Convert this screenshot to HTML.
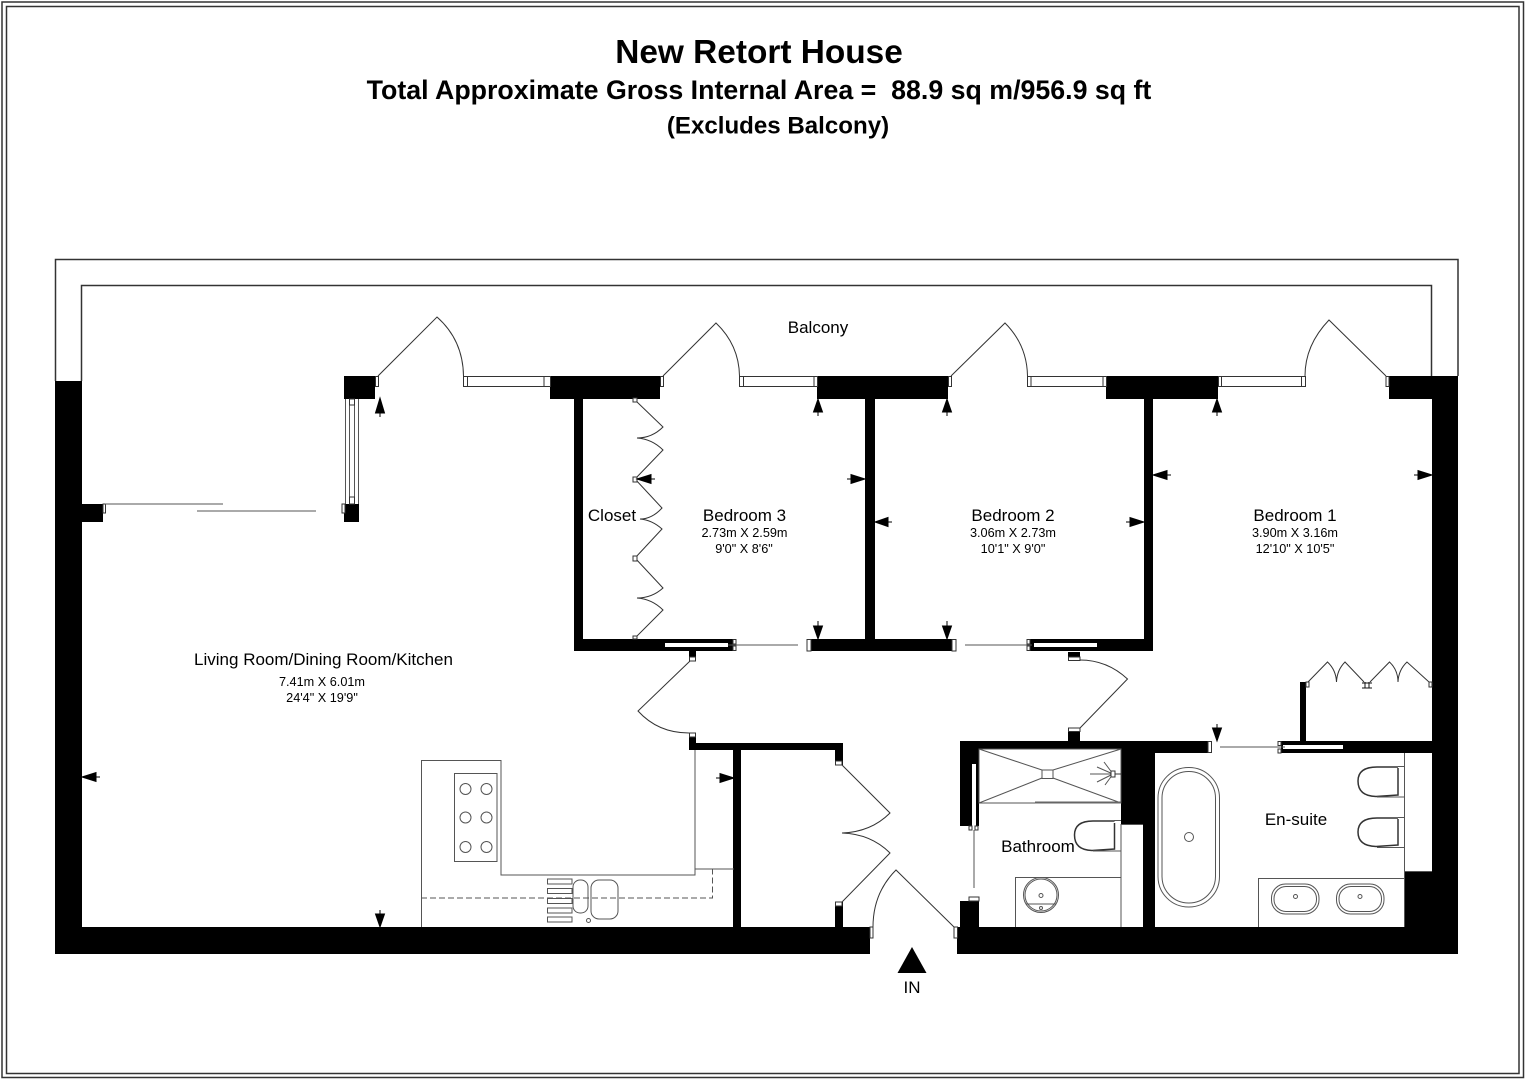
<!DOCTYPE html>
<html><head><meta charset="utf-8"><style>
html,body{margin:0;padding:0;background:#fff}
svg{display:block}
text{font-family:"Liberation Sans",sans-serif;fill:#000;text-anchor:middle}
.b{font-weight:bold}
.l{fill:none;stroke:#333;stroke-width:1}
.g{fill:none;stroke:#555;stroke-width:1}
.j{fill:#fff;stroke:#333;stroke-width:1}
</style></head><body>
<svg width="1526" height="1080" viewBox="0 0 1526 1080" xmlns="http://www.w3.org/2000/svg">
<rect width="1526" height="1080" fill="#fff"/>
<rect x="2" y="2" width="1521.500" height="1075.500" fill="none" stroke="#333" stroke-width="1.500"/>
<rect x="6.500" y="6.500" width="1512.500" height="1067" fill="none" stroke="#333" stroke-width="1.500"/>

<text class="b" x="759" y="63" font-size="33.400">New Retort House</text>
<text class="b" x="759" y="99" font-size="26.750">Total Approximate Gross Internal Area =&#160;&#160;88.9 sq m/956.9 sq ft</text>
<text class="b" x="778" y="133.500" font-size="24.100">(Excludes Balcony)</text>

<!-- balcony outlines -->
<path class="l" style="stroke-width:1.500" d="M55.500 381V259.500H1458V376M81.500 381V285.500H1431.500V376"/>

<!-- black walls -->
<g fill="#000">
<rect x="55" y="381" width="27" height="573"/>
<rect x="55" y="927" width="815" height="27"/>
<rect x="957" y="927" width="501" height="27"/>
<rect x="1432" y="376" width="26" height="578"/>
<rect x="82" y="504" width="21" height="18"/>
<rect x="344" y="376" width="31" height="23"/>
<rect x="344" y="504" width="15" height="18"/>
<rect x="550" y="376" width="110" height="23"/>
<rect x="817" y="376" width="131" height="23"/>
<rect x="1106" y="376" width="112" height="23"/>
<rect x="1389" y="376" width="43" height="23"/>
<rect x="574" y="399" width="9" height="252"/>
<rect x="865" y="399" width="10" height="240"/>
<rect x="1144" y="399" width="9" height="252"/>
<rect x="574" y="639" width="159" height="12"/>
<rect x="811" y="639" width="141" height="12"/>
<rect x="1030" y="639" width="123" height="12"/>
<rect x="689" y="651" width="7" height="7"/>
<rect x="1068" y="652" width="12" height="6"/>
<rect x="689" y="733" width="7" height="17"/>
<rect x="689" y="743" width="154" height="7"/>
<rect x="733" y="750" width="8" height="177"/>
<rect x="835" y="743" width="8" height="22"/>
<rect x="835" y="902" width="8" height="25"/>
<rect x="1068" y="728" width="12" height="13"/>
<rect x="960" y="741" width="248" height="8"/>
<rect x="960" y="749" width="19" height="77"/>
<rect x="1121" y="749" width="34" height="75"/>
<rect x="1143" y="824" width="12" height="103"/>
<rect x="1121" y="741" width="87" height="12"/>
<rect x="960" y="901" width="19" height="26"/>
<rect x="1281" y="741" width="151" height="12"/>
<rect x="1300" y="682" width="6" height="59"/>
<rect x="1404" y="872" width="28" height="55"/>
</g>
<!-- slots -->
<g fill="#fff">
<rect x="665" y="643" width="63" height="4"/>
<rect x="1034" y="643" width="63" height="4"/>
<rect x="1283" y="745" width="60" height="4"/>
<rect x="972" y="764" width="4" height="62"/>
</g>

<!-- vertical window west -->
<path class="g" d="M345.500 399V504M349.500 399V504M354.500 399V504M358.500 399V504"/>
<rect class="j" x="349.500" y="399" width="5" height="6"/>
<rect class="j" x="349.500" y="497" width="5" height="7"/>
<rect class="j" x="342" y="504" width="3" height="9"/>
<rect class="j" x="103" y="504" width="2.500" height="9"/>
<!-- sliding doors -->
<path class="g" d="M105 504H223M197 511H316"/>

<!-- balcony windows -->
<rect class="j" x="463.500" y="376.500" width="87" height="10"/>
<rect class="j" x="739.500" y="376.500" width="78" height="10"/>
<rect class="j" x="1027.500" y="376.500" width="79" height="10"/>
<rect class="j" x="1218.500" y="376.500" width="87" height="10"/>
<path class="l" d="M467.500 376.500V386.500M544 376.500V386.500M743.500 376.500V386.500M814 376.500V386.500M1031 376.500V386.500M1103 376.500V386.500M1221.500 376.500V386.500M1301.500 376.500V386.500"/>
<rect class="j" x="375.500" y="376.500" width="3" height="10"/>
<rect class="j" x="660.500" y="376.500" width="3" height="10"/>
<rect class="j" x="948.500" y="376.500" width="3" height="10"/>
<rect class="j" x="1386" y="376.500" width="3" height="10"/>
<!-- balcony doors -->
<path class="l" d="M378 376L437 317Q463 340 463.500 376"/>
<path class="l" d="M663 376L716 323Q739 345 739.500 376"/>
<path class="l" d="M951 376L1005 323Q1027 345 1027.500 376"/>
<path class="l" d="M1386 376L1329 320Q1305 345 1305 376"/>

<!-- closet bifold bedroom 3 -->
<path class="l" d="M636 401L663 427Q652 438 637 438Q652 439 663 450L635 479L662 508Q652 519 640 519Q652 520 662 529L635 558L663 588Q652 598 637 598Q652 599 663 610L636 637"/>
<rect class="j" x="633" y="398" width="4" height="4"/>
<rect class="j" x="633" y="477" width="4" height="5"/>
<rect class="j" x="633" y="556" width="4" height="5"/>
<rect class="j" x="633" y="636" width="4" height="3"/>

<!-- bedroom sliding doors -->
<rect class="j" x="733" y="639.500" width="3" height="4.500"/>
<rect class="j" x="733" y="646" width="3" height="4.500"/>
<path class="g" d="M728 645H798M965 645H1032M1220 747H1285"/>
<rect class="j" x="807" y="639.500" width="4" height="11.500"/>
<rect class="j" x="952" y="639.500" width="4" height="11.500"/>
<rect class="j" x="1027" y="639.500" width="3" height="4.500"/>
<rect class="j" x="1027" y="646" width="3" height="4.500"/>
<rect class="j" x="1208" y="741.500" width="3.500" height="11"/>
<rect class="j" x="1278" y="741.500" width="3" height="4"/>
<rect class="j" x="1278" y="749" width="3" height="4"/>

<!-- living door -->
<rect class="j" x="689.500" y="657" width="6" height="4"/>
<rect class="j" x="689.500" y="733" width="6" height="4"/>
<path class="l" d="M690 661L638 711Q658 733 689 733"/>
<!-- bathroom corridor door -->
<rect class="j" x="1068.500" y="657" width="11.500" height="3.500"/>
<rect class="j" x="1068.500" y="728" width="11.500" height="3.500"/>
<path class="l" d="M1080 660Q1107 660 1127.500 679L1080 728"/>
<!-- cupboard double doors -->
<rect class="j" x="835.500" y="761" width="6.500" height="4"/>
<rect class="j" x="835.500" y="902" width="6.500" height="4"/>
<path class="l" d="M842 765L890 813Q871 832 842 833Q871 834 890 853L842 902"/>
<!-- entrance -->
<rect class="j" x="870" y="927" width="3" height="11"/>
<rect class="j" x="954" y="927" width="3.500" height="11"/>
<path class="l" d="M873 927Q873 893 896 870L954 927"/>
<path d="M912 947L926.500 973H897.500Z" fill="#000"/>

<!-- kitchen -->
<path class="g" d="M421.500 927V760.500H501V875H695V750M695 869H734"/>
<path d="M421 898H712.500V869" fill="none" stroke="#555" stroke-dasharray="6 3"/>
<rect class="g" x="454.500" y="773.500" width="42.500" height="88"/>
<circle class="g" cx="465.500" cy="789" r="5.500"/><circle class="g" cx="486.500" cy="789" r="5.500"/>
<circle class="g" cx="465.500" cy="817.500" r="5.500"/><circle class="g" cx="486.500" cy="817.500" r="5.500"/>
<circle class="g" cx="465.500" cy="847" r="5.500"/><circle class="g" cx="486.500" cy="847" r="5.500"/>
<rect class="g" x="547.500" y="879" width="24.500" height="5"/>
<rect class="g" x="547.500" y="888.500" width="24.500" height="5"/>
<rect class="g" x="547.500" y="898.500" width="24.500" height="5"/>
<rect class="g" x="547.500" y="908" width="24.500" height="5"/>
<rect class="g" x="547.500" y="917" width="24.500" height="5"/>
<rect class="g" x="573" y="880" width="15" height="33" rx="7"/>
<rect class="g" x="591" y="880" width="27" height="39" rx="8"/>
<circle class="g" cx="588.500" cy="920.500" r="2"/>

<!-- bathroom -->
<rect class="g" x="979" y="749" width="142" height="54"/>
<rect class="g" x="1042" y="770" width="11" height="8.500"/>
<path class="g" d="M979 749L1042 770M1121 749L1053 770M979 803L1042 778M1121 803L1053 778"/>
<path d="M1035 802.500H1121" stroke="#666" stroke-width="2"/>
<path class="g" d="M1090 774H1113M1097 767L1113 774M1104 762L1113 774M1097 782L1113 774M1105 785L1113 774"/>
<rect class="j" x="1111" y="771" width="4" height="6"/>
<path d="M1115 774H1121" stroke="#333"/>
<rect class="j" x="969" y="826" width="3" height="4"/>
<rect class="j" x="975" y="826" width="3" height="4"/>
<path class="g" d="M974 830V888"/>
<rect class="j" x="969" y="897" width="10" height="4"/>
<path d="M1114.500 821H1093Q1074.500 821 1074.500 835Q1074.500 850 1092 850.500L1114.500 849V823" fill="none" stroke="#333" stroke-width="1.500"/>
<path class="g" d="M1114 820.500H1121M1093 851H1121"/>
<path class="g" d="M1015.500 927V877.500H1121M1121 824V927M1121 824.500H1143"/>
<circle class="g" cx="1041" cy="895" r="17.500"/>
<circle class="g" cx="1041" cy="895" r="16"/>
<path class="g" d="M1026 904H1056"/>
<circle class="g" cx="1041" cy="895.500" r="2"/>
<circle class="g" cx="1041" cy="908" r="1.500"/>

<!-- en-suite -->
<rect class="g" x="1158" y="767.500" width="61.500" height="139.500" rx="30.500"/>
<rect class="g" x="1162" y="771.500" width="53.500" height="131.500" rx="26.500"/>
<circle class="g" cx="1189" cy="837" r="4.500"/>
<path class="g" d="M1404.500 753V927M1404 871.500H1432M1258.500 927V878.500H1404"/>
<path d="M1398 767H1377Q1358 767 1358 781Q1358 796 1376 796.500L1398 795V768" fill="none" stroke="#333" stroke-width="1.500"/>
<path class="g" d="M1398 766.500H1404M1377 797H1404"/>
<path d="M1398 818H1377Q1358 818 1358 832Q1358 846 1376 846.500L1398 845V819" fill="none" stroke="#333" stroke-width="1.500"/>
<path class="g" d="M1398 817.500H1404M1377 847.500H1404"/>
<rect class="g" x="1271.500" y="884" width="47.500" height="30" rx="14"/>
<rect class="g" x="1274" y="886.500" width="42.500" height="25" rx="12"/>
<circle class="g" cx="1295.500" cy="896.500" r="2"/>
<rect class="g" x="1336.500" y="884" width="47.500" height="30" rx="14"/>
<rect class="g" x="1339" y="886.500" width="42.500" height="25" rx="12"/>
<circle class="g" cx="1360" cy="896.500" r="2"/>

<!-- bedroom 1 closet bifold -->
<rect class="j" x="1306" y="682" width="3" height="5"/>
<path class="l" d="M1308 682L1327.500 662Q1336 670 1336.500 682Q1337 670 1345 662L1364 682M1370 682L1389.500 662Q1398 670 1398 682Q1398.500 670 1407 662L1429 682"/>
<path d="M1362 683H1372M1362 688H1372M1365 682V688M1369 682V688" stroke="#111" fill="none"/>
<rect class="j" x="1429" y="682" width="3" height="5"/>

<!-- dimension arrows -->
<g fill="#000" stroke="#000" stroke-width="1">
<path d="M380 398L384.500 413H375.500ZM380 413V417"/>
<path d="M818 399L822.500 412H813.500ZM818 412V416"/>
<path d="M947 399L951.500 412H942.500ZM947 412V416"/>
<path d="M1217 399L1221.500 412H1212.500ZM1217 412V416"/>
<path d="M818 639L813.500 626H822.500ZM818 626V621"/>
<path d="M947 639L942.500 626H951.500ZM947 626V621"/>
<path d="M1217 741L1212.500 728H1221.500ZM1217 728V724"/>
<path d="M380 927L375.500 914H384.500ZM380 914V910"/>
<path d="M637 479L651 474.500V483.500ZM651 479H655"/>
<path d="M875 522L888 517.500V526.500ZM888 522H892"/>
<path d="M1153 475L1167 470.500V479.500ZM1167 475H1171"/>
<path d="M82 777L96 772.500V781.500ZM96 777H100"/>
<path d="M865 479L851 474.500V483.500ZM851 479H847"/>
<path d="M1144 522L1130 517.500V526.500ZM1130 522H1126"/>
<path d="M1432 475L1418 470.500V479.500ZM1418 475H1414"/>
<path d="M734 778L720 773.500V782.500ZM720 778H716"/>
</g>

<!-- labels -->
<text x="818" y="333" font-size="17">Balcony</text>
<text x="612" y="521" font-size="17">Closet</text>
<text x="744.500" y="521" font-size="17">Bedroom 3</text>
<text x="744.500" y="537" font-size="12.700">2.73m X 2.59m</text>
<text x="744" y="553" font-size="12.700">9'0" X 8'6"</text>
<text x="1013" y="521" font-size="17">Bedroom 2</text>
<text x="1013" y="537" font-size="12.700">3.06m X 2.73m</text>
<text x="1013" y="553" font-size="12.700">10'1" X 9'0"</text>
<text x="1295" y="521" font-size="17">Bedroom 1</text>
<text x="1295" y="537" font-size="12.700">3.90m X 3.16m</text>
<text x="1295" y="553" font-size="12.700">12'10" X 10'5"</text>
<text x="323.500" y="665" font-size="17">Living Room/Dining Room/Kitchen</text>
<text x="322" y="686" font-size="12.700">7.41m X 6.01m</text>
<text x="322" y="702" font-size="12.700">24'4" X 19'9"</text>
<text x="1038" y="852" font-size="17">Bathroom</text>
<text x="1296" y="825" font-size="17">En-suite</text>
<text x="912" y="993" font-size="17">IN</text>
</svg>
</body></html>
